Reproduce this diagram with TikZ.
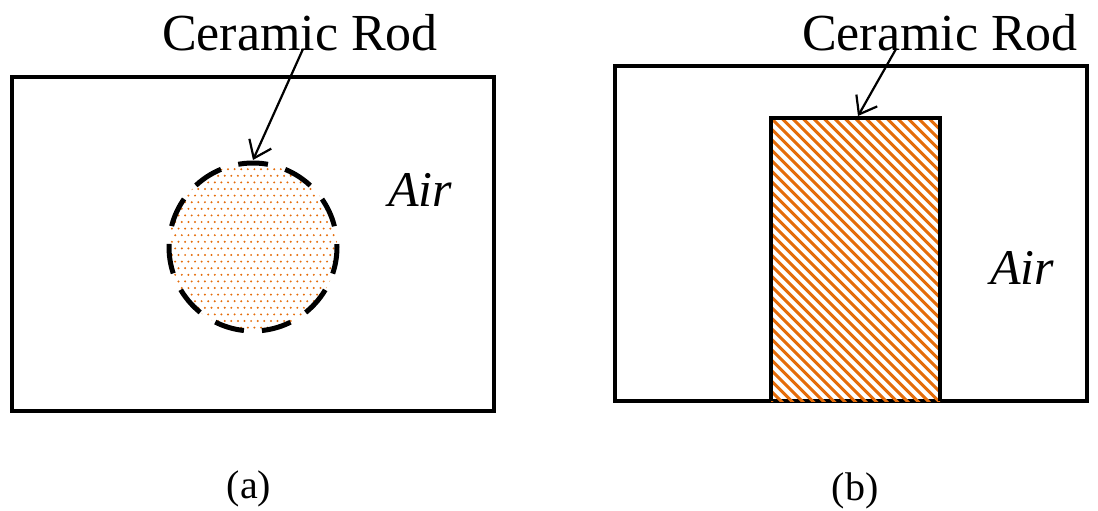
\documentclass[tikz,border=0pt]{standalone}
\usepackage{fontspec}
\setmainfont{Liberation Serif}
\usetikzlibrary{arrows.meta}
\definecolor{rodorange}{RGB}{228,108,10}
\tikzset{
  frame/.style={draw=black,line width=4.5pt},
  pointer/.style={draw=black,line width=2.2pt,-{Straight Barb[length=16pt,width=24pt,line width=2.2pt]}},
  lbl/.style={font=\fontsize{52}{62}\selectfont,inner sep=0pt},
  airlbl/.style={font=\fontsize{50}{60}\selectfont\itshape,inner sep=0pt},
  caplbl/.style={font=\fontsize{40}{48}\selectfont,inner sep=0pt}
}
\begin{document}
\begin{tikzpicture}[x=1pt,y=-1pt]
\useasboundingbox (0,0) rectangle (1098,511);
% ---- (a) ----
\draw[frame] (12,77) rectangle (494,411);
\begin{scope}
  \clip (253,247) circle (84);
  \foreach \j in {0,...,28} {
    \pgfmathsetmacro{\off}{mod(\j,2)*3.3}
    \foreach \i in {0,...,28} {
      \pgfmathsetmacro{\xx}{162+\i*6.6+\off}
      \pgfmathsetmacro{\yy}{156+\j*6.6}
      \fill[rodorange] (\xx,\yy) circle (1.1);
    }
  }
\end{scope}
\draw[black,line width=5pt,dash pattern=on 30pt off 18pt,dash phase=15pt] (253,163) arc[start angle=-90,end angle=270,radius=84];
\node[lbl] (capA) at (300,33) {Ceramic Rod};
\coordinate (tipA) at (253,160);
\draw[pointer] (303,49) -- (tipA);
\node[airlbl] (airA) at (420,190) {Air};
\node[caplbl] (labA) at (249,489) {(a)};
% ---- (b) ----
\draw[frame] (615,66) rectangle (1087,401);
\begin{scope}
  \clip (771,118) rectangle (940,401);
  \foreach \k in {-36,...,18} {
    \draw[rodorange,line width=3pt] (771+\k*10.5,118) -- ++(300,300);
  }
\end{scope}
\draw[frame] (771,401) -- (771,118) -- (940,118) -- (940,401);
\node[lbl] (capB) at (940,33) {Ceramic Rod};
\coordinate (tipB) at (858,116);
\draw[pointer] (896,49) -- (tipB);
\node[airlbl] (airB) at (1022,268) {Air};
\node[caplbl] (labB) at (855,491) {(b)};
\end{tikzpicture}
\end{document}
